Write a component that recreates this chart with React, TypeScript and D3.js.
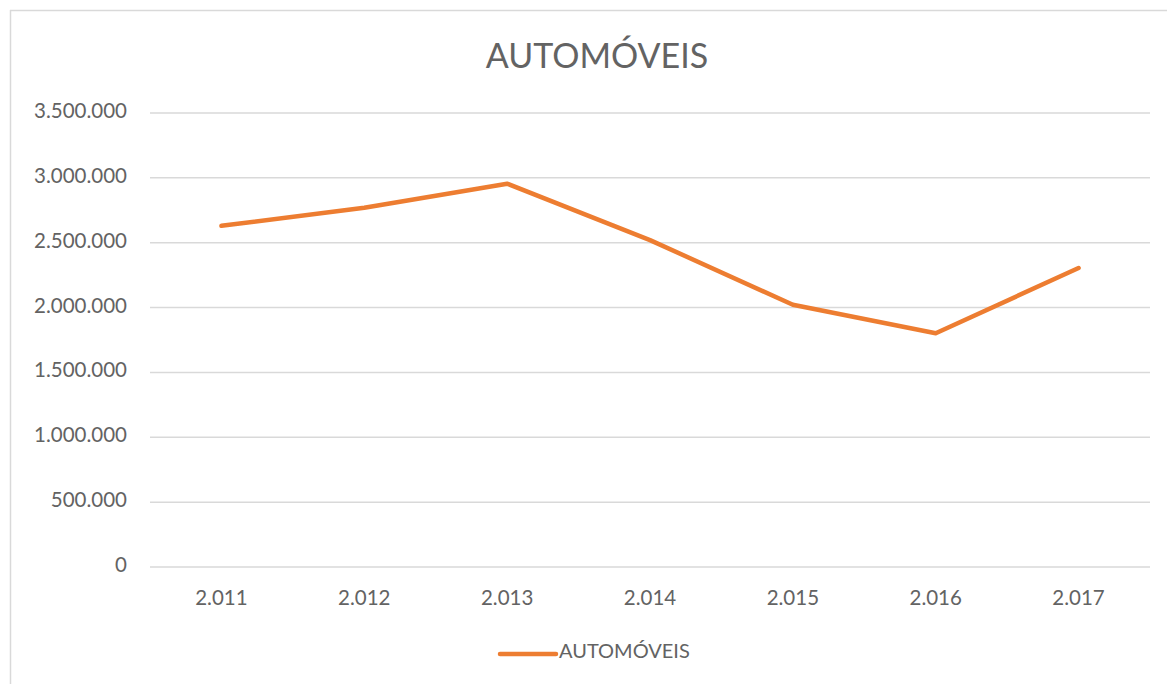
import { useMemo } from "react";
import * as d3 from "d3";

const WIDTH = 1167;
const HEIGHT = 684;
const MARGIN = { top: 113, right: 17, bottom: 117, left: 150 };

const years = ["2.011", "2.012", "2.013", "2.014", "2.015", "2.016", "2.017"];
const automoveis = [2630000, 2770000, 2955000, 2520000, 2022000, 1802000, 2305000];
const yTicks = [0, 500000, 1000000, 1500000, 2000000, 2500000, 3000000, 3500000];

const LINE_COLOR = "#ED7D31";
const TEXT_COLOR = "#636363";
const GRID_COLOR = "#D9D9D9";
const FONT = "Lato, 'Open Sans', sans-serif";

const fmt = (v: number) => (v === 0 ? "0" : d3.format(",")(v).replace(/,/g, "."));

export default function App() {
  const boundsWidth = WIDTH - MARGIN.left - MARGIN.right;
  const boundsHeight = HEIGHT - MARGIN.top - MARGIN.bottom;

  const xScale = useMemo(
    () => d3.scaleBand().domain(years).range([0, boundsWidth]),
    [boundsWidth]
  );
  const yScale = useMemo(
    () => d3.scaleLinear().domain([0, 3500000]).range([boundsHeight, 0]),
    [boundsHeight]
  );

  const line = d3
    .line<number>()
    .x((_, i) => (xScale(years[i]) ?? 0) + xScale.bandwidth() / 2)
    .y((d) => yScale(d));

  return (
    <svg
      width={WIDTH}
      height={HEIGHT}
      style={{ position: "fixed", top: 0, left: 0, background: "#fff" }}
      fontFamily={FONT}
    >
      {/* chart frame, only top and left edges visible */}
      <line x1={10} x2={WIDTH} y1={10.5} y2={10.5} stroke={GRID_COLOR} strokeWidth={1.5} />
      <line x1={10.5} x2={10.5} y1={10} y2={HEIGHT} stroke={GRID_COLOR} strokeWidth={1.5} />

      <text x={597} y={68} textAnchor="middle" fontSize={34} fill={TEXT_COLOR}>
        AUTOMÓVEIS
      </text>

      <g transform={`translate(${MARGIN.left},${MARGIN.top})`}>
        {yTicks.map((t) => (
          <g key={t}>
            <line
              x1={0}
              x2={boundsWidth}
              y1={yScale(t)}
              y2={yScale(t)}
              stroke={GRID_COLOR}
              strokeWidth={1.5}
            />
            <text
              x={-23}
              y={yScale(t) + 5}
              textAnchor="end"
              fontSize={20.5}
              fill={TEXT_COLOR}
            >
              {fmt(t)}
            </text>
          </g>
        ))}

        {years.map((y) => (
          <text
            key={y}
            x={(xScale(y) ?? 0) + xScale.bandwidth() / 2}
            y={boundsHeight + 38}
            textAnchor="middle"
            fontSize={20.5}
            fill={TEXT_COLOR}
          >
            {y}
          </text>
        ))}

        <path
          d={line(automoveis) ?? ""}
          fill="none"
          stroke={LINE_COLOR}
          strokeWidth={4.5}
          strokeLinejoin="round"
          strokeLinecap="round"
        />
      </g>

      {/* legend */}
      <line x1={500} x2={556} y1={654} y2={654} stroke={LINE_COLOR} strokeWidth={4.5} strokeLinecap="round" />
      <text x={559} y={658} fontSize={20} fill={TEXT_COLOR}>
        AUTOMÓVEIS
      </text>
    </svg>
  );
}
